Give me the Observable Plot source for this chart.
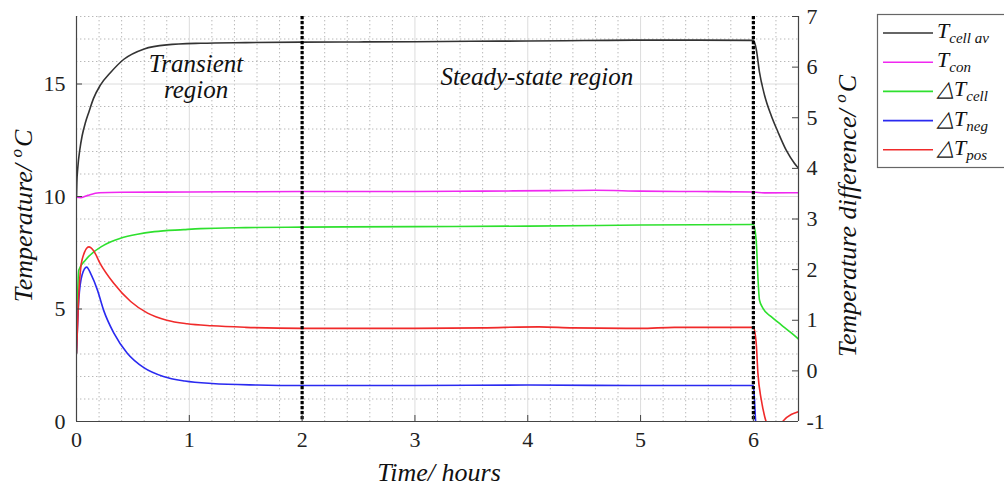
<!DOCTYPE html>
<html><head><meta charset="utf-8">
<script src="https://cdn.jsdelivr.net/npm/d3@7"></script>
<script src="https://cdn.jsdelivr.net/npm/@observablehq/plot@0.6"></script>
<style>
body{margin:0;background:#fff;}
#chart{position:relative;width:1004px;height:492px;overflow:hidden;}
</style>
</head><body><div id="chart"></div>
<script>
// ---- data (time in hours) ----
const seriesNames = ["T_cell_av", "T_con", "dT_cell", "dT_neg", "dT_pos"];
const seriesColors = ["#333333", "#f028f0", "#2ee02e", "#2a2af0", "#f02a2a"];
const seriesAxis = ["left", "left", "right", "right", "right"];
const legendMain = ["T", "T", "\u25B3T", "\u25B3T", "\u25B3T"];
const legendSub = ["cell av", "con", "cell", "neg", "pos"];

const timeCellAv = [0, 0.003, 0.011, 0.03, 0.05, 0.08, 0.11, 0.15, 0.21, 0.3, 0.42, 0.6, 0.8, 1.1, 1.5, 2, 2.5, 3, 3.5, 4, 4.5, 5, 5.5, 6.0, 6.025, 6.054, 6.099, 6.158, 6.217, 6.291, 6.365, 6.41];
const tempCellAv = [10.0, 10.6, 11.25, 12.1, 12.7, 13.3, 13.76, 14.35, 14.94, 15.5, 16.1, 16.56, 16.74, 16.81, 16.84, 16.86, 16.87, 16.88, 16.9, 16.91, 16.93, 16.95, 16.95, 16.94, 16.56, 15.53, 14.5, 13.6, 12.88, 12.06, 11.47, 11.2];

const timeCon = [0, 0.04, 0.1, 0.2, 0.4, 1, 2, 3, 3.6, 4.2, 4.6, 5.0, 5.5, 6.0, 6.1, 6.41];
const tempCon = [9.97, 9.95, 10.05, 10.17, 10.19, 10.2, 10.22, 10.22, 10.24, 10.26, 10.28, 10.24, 10.22, 10.2, 10.16, 10.17];

const timeDCell = [0, 0.01, 0.02, 0.08, 0.24, 0.39, 0.54, 0.69, 0.95, 1.1, 1.5, 2, 3, 4, 5, 6.0, 6.025, 6.04, 6.054, 6.084, 6.158, 6.247, 6.336, 6.41];
const diffCell = [0.35, 1.5, 1.99, 2.19, 2.48, 2.62, 2.70, 2.75, 2.79, 2.81, 2.83, 2.84, 2.85, 2.86, 2.88, 2.89, 2.58, 1.86, 1.40, 1.24, 1.07, 0.91, 0.75, 0.61];

const timeDNeg = [0, 0.02, 0.05, 0.09, 0.13, 0.185, 0.24, 0.33, 0.45, 0.6, 0.77, 0.96, 1.2, 1.6, 2, 3, 4, 5, 6.0, 6.02, 6.04];
const diffNeg = [0.35, 1.4, 1.9, 2.05, 1.9, 1.60, 1.20, 0.75, 0.35, 0.06, -0.11, -0.2, -0.25, -0.28, -0.29, -0.29, -0.28, -0.29, -0.29, -1.0, -1.6];

const timeDPos = [0, 0.02, 0.05, 0.11, 0.15, 0.21, 0.33, 0.48, 0.63, 0.8, 0.98, 1.2, 1.5, 2, 3, 3.6, 4.1, 4.4, 5, 5.3, 6.0, 6.025, 6.04, 6.07, 6.10, 6.12, 6.16, 6.2, 6.24, 6.26, 6.41];
const diffPos = [0.35, 1.5, 2.2, 2.45, 2.38, 2.12, 1.73, 1.37, 1.14, 1.0, 0.93, 0.89, 0.86, 0.84, 0.84, 0.85, 0.87, 0.85, 0.84, 0.86, 0.86, 0.55, -0.04, -0.57, -0.9, -1.05, -1.25, -1.3, -1.15, -1.0, -0.8];

const seriesTimes = [timeCellAv, timeCon, timeDCell, timeDNeg, timeDPos];
const seriesValues = [tempCellAv, tempCon, diffCell, diffNeg, diffPos];

// axes / ticks / annotations
const xTicks = [0, 1, 2, 3, 4, 5, 6];
const leftTicks = [0, 5, 10, 15];
const rightTicks = [-1, 0, 1, 2, 3, 4, 5, 6, 7];
const dividerTimes = [2, 6];
const annotText = ["Transient", "region", "Steady-state region"];
const annotTime = [1.06, 1.06, 4.08];
const annotTemp = [15.87, 14.72, 15.29];

const X_MAX = 6.4, Y_MAX = 18, R_MIN = -1, R_MAX = 7;
const toLeft = v => (v - R_MIN) * Y_MAX / (R_MAX - R_MIN);
const fromLeft = y => y * (R_MAX - R_MIN) / Y_MAX + R_MIN;

const minorX = d3.range(1, 32).map(i => +(i * 0.2).toFixed(2)).filter(v => Math.abs(v - Math.round(v)) > 1e-6 && v < X_MAX);
const minorY = d3.range(1, 19).filter(v => v % 5 !== 0);

const rows = [];
seriesNames.forEach((name, s) => {
  seriesTimes[s].forEach((t, i) => {
    const v = seriesValues[s][i];
    rows.push({series: name, t, y: seriesAxis[s] === "right" ? toLeft(v) : v});
  });
});
const annots = annotText.map((text, i) => ({text, t: annotTime[i], y: annotTemp[i]}));

const W = 1004, H = 492, ML = 76, MR = 206, MT = 16, MB = 71;
const frameW = W - ML - MR, frameH = H - MT - MB;
const serif = "'Liberation Serif', serif";

const plot = Plot.plot({
  width: W, height: H,
  marginLeft: ML, marginRight: MR, marginTop: MT, marginBottom: MB,
  style: {fontFamily: serif, fontSize: "22px", color: "#222", background: "#fff"},
  x: {domain: [0, X_MAX], label: null},
  y: {domain: [0, Y_MAX], label: null},
  color: {domain: seriesNames, range: seriesColors},
  marks: [
    Plot.gridX(minorX, {stroke: "#b8b8b8", strokeOpacity: 1, strokeDasharray: "1.4,2.6"}),
    Plot.gridY(minorY, {stroke: "#b8b8b8", strokeOpacity: 1, strokeDasharray: "1.4,2.6"}),
    Plot.gridX(xTicks.slice(1), {stroke: "#dcdcdc", strokeOpacity: 1}),
    Plot.gridY(leftTicks.slice(1), {stroke: "#dcdcdc", strokeOpacity: 1}),
    Plot.line(rows, {x: "t", y: "y", z: "series", stroke: "series", strokeWidth: 1.6, curve: "monotone-x", clip: true}),
    Plot.ruleX(dividerTimes, {stroke: "#000", strokeWidth: 3.2, strokeDasharray: "3.3,1.7"}),
    Plot.ruleX([0, X_MAX], {stroke: "#444", strokeWidth: 1.2}),
    Plot.ruleY([0], {stroke: "#444", strokeWidth: 1.2}),
    Plot.tickX(xTicks, {x: d => d, insetTop: frameH - 6, stroke: "#444"}),
    Plot.tickY(leftTicks, {y: d => d, insetRight: frameW - 6, stroke: "#444"}),
    Plot.tickY(rightTicks.map(toLeft), {y: d => d, insetLeft: frameW - 6, stroke: "#444"}),
    Plot.axisX(xTicks, {tickSize: 0, tickPadding: 10, fontSize: 22, label: null}),
    Plot.axisY(leftTicks, {tickSize: 0, tickPadding: 11, fontSize: 22, label: null}),
    Plot.axisY(rightTicks.map(toLeft), {anchor: "right", tickSize: 0, tickPadding: 8, fontSize: 22, label: null,
      tickFormat: v => String(Math.round(fromLeft(v)))}),
    Plot.text(annots, {x: "t", y: "y", text: "text", fontSize: 25, fontStyle: "italic", fill: "#111"})
  ]
});
document.getElementById("chart").appendChild(plot);

const svg = d3.select(plot);
svg.selectAll("text").style("font-family", serif);

function italicText(sel, size) {
  return sel.style("font-family", serif).style("font-style", "italic").style("font-size", size + "px").attr("fill", "#111");
}
function degLabel(g, main) {
  g.append("tspan").text(main);
  g.append("tspan").attr("dy", -10).style("font-size", "17px").text("o");
  g.append("tspan").attr("dy", 10).attr("dx", 2).text("C");
}
// axis titles
italicText(svg.append("text").attr("x", 439).attr("y", 481).attr("text-anchor", "middle"), 26).text("Time/ hours");
const yl = italicText(svg.append("text").attr("transform", "translate(32,216) rotate(-90)").attr("text-anchor", "middle"), 26);
degLabel(yl, "Temperature/ ");
const yr = italicText(svg.append("text").attr("transform", "translate(856,216) rotate(-90)").attr("text-anchor", "middle"), 26);
degLabel(yr, "Temperature difference/ ");

// legend
const lg = svg.append("g");
lg.append("rect").attr("x", 877.5).attr("y", 14.5).attr("width", 200).attr("height", 153)
  .attr("fill", "#fff").attr("stroke", "#666").attr("stroke-width", 1.2);
seriesNames.forEach((name, i) => {
  const cy = 33 + i * 29.2;
  lg.append("line").attr("x1", 883).attr("x2", 933).attr("y1", cy).attr("y2", cy)
    .attr("stroke", seriesColors[i]).attr("stroke-width", 1.6);
  const t = italicText(lg.append("text").attr("x", 937).attr("y", cy + 5).attr("text-anchor", "start"), 22);
  t.append("tspan").text(legendMain[i]);
  t.append("tspan").attr("dy", 5).style("font-size", "15px").text(legendSub[i]);
});
</script>
</body></html>
